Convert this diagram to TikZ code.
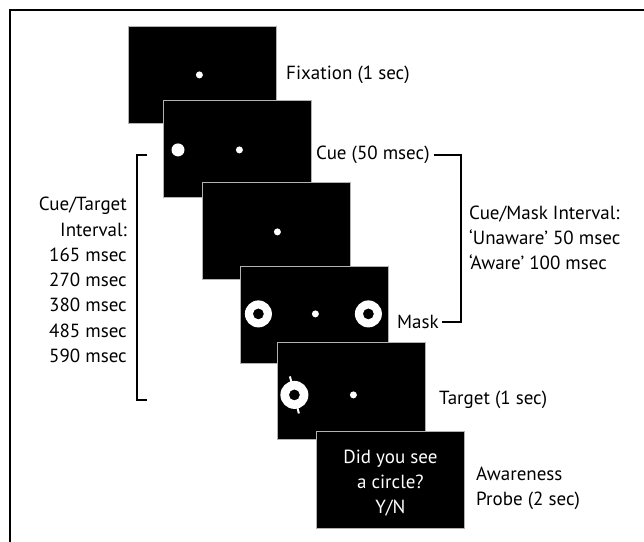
\documentclass[tikz,border=0pt]{standalone}
\usepackage{fontspec}
\setmainfont{PT Sans}
\usetikzlibrary{positioning,calc}

\tikzset{
  screen/.style={fill=black, draw=black!30, line width=0.8pt, minimum width=148pt,
    minimum height=97pt, anchor=north west, inner sep=0pt},
  lbltext/.style={font=\fontsize{19}{25.3}\selectfont, inner sep=1pt, align=left},
  bracket/.style={line width=1.6pt},
}

\begin{document}
\begin{tikzpicture}[x=1pt,y=-1pt]
  \useasboundingbox (0,0) rectangle (644,541);
  % Outer frame
  \draw[line width=2pt] (10,560) |- (660,9.5);

  % Screens
  \node[screen] (fix) at (128,26) {};
  \node[screen] (cue) at (163,100) {};
  \node[screen] (gap) at (202,182) {};
  \node[screen] (mask) at (240,266) {};
  \node[screen] (tgt) at (277,342) {};
  \node[screen] (probe) at (316,431) {};
  \node[lbltext, text=white, align=center] (question) at ($(probe.center)+(0,3)$)
    {Did you see\\a circle?\\Y/N};

  % Dots and rings
  \fill[white] ($(fix.center)+(-3,0)$) circle (3.5pt);
  \fill[white] ($(cue.west)+(15,1)$) circle (6.5pt);
  \fill[white] ($(cue.center)+(2,1)$) circle (3.5pt);
  \fill[white] ($(gap.center)+(1,1)$) circle (3.5pt);
  \fill[white] ($(mask.center)+(1,-1)$) circle (3.5pt);
  \fill[white, even odd rule] ($(mask.center)+(-56,-1)$) circle (13.5pt) circle (5.5pt);
  \fill[white, even odd rule] ($(mask.center)+(54,-1)$) circle (13.5pt) circle (5.5pt);
  \coordinate (ring) at ($(tgt.center)+(-57,4)$);
  \fill[white, even odd rule] (ring) circle (14pt) circle (5.5pt);
  \draw[white, line width=2pt] ($(ring)+(-4.5,-18.5)$) -- ($(ring)+(-2.5,-11)$);
  \draw[white, line width=2pt] ($(ring)+(4.5,18.5)$) -- ($(ring)+(2.5,11)$);
  \fill[white] ($(tgt.center)+(2,4)$) circle (3.5pt);

  % Labels
  \node[lbltext, anchor=west] (fixlbl) at (285,75) {Fixation (1 sec)};
  \node[lbltext, anchor=west] (cuelbl) at (315,155) {Cue (50 msec)};
  \node[lbltext, anchor=west] (masklbl) at (396,322) {Mask};
  \node[lbltext, anchor=west] (tgtlbl) at (438,400) {Target (1 sec)};
  \node[lbltext, anchor=west] (probelbl) at (475,488) {Awareness\\Probe (2 sec)};
  \node[lbltext, anchor=west] (cmint) at (468,238) {Cue/Mask Interval:\\‘Unaware’ 50 msec\\‘Aware’ 100 msec};
  \node[lbltext, anchor=east, align=right] (ctint) at (128,280)
    {Cue/Target\\Interval:\\165 msec\\270 msec\\380 msec\\485 msec\\590 msec};

  % Brackets
  \coordinate (rb) at (461,0);
  \draw[bracket] ($(cuelbl.east)+(3,0)$) -- (cuelbl.east -| rb) -- (masklbl.east -| rb)
    -- ($(masklbl.east)+(2,0)$);
  \coordinate (lbtop) at (147,155);
  \coordinate (lbbot) at (147,400);
  \draw[bracket] (lbtop) -- ++(-10,0) |- (lbbot);
\end{tikzpicture}
\end{document}
